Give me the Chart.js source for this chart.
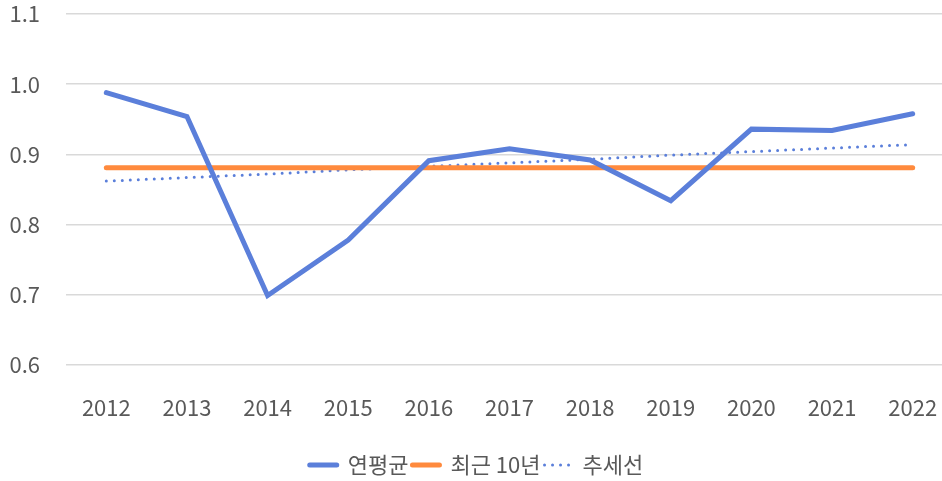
<!DOCTYPE html>
<html>
<head>
<meta charset="utf-8">
<script src="https://cdn.jsdelivr.net/npm/chart.js@4"></script>
<style>
  html, body { margin: 0; padding: 0; background: #fff; overflow: hidden; }
  #wrap { width: 953px; height: 481px; }
</style>
</head>
<body>
<div id="wrap"><canvas id="chart"></canvas></div>
<script>
var years = ['2012', '2013', '2014', '2015', '2016', '2017', '2018', '2019', '2020', '2021', '2022'];
var annualAvg = [0.988, 0.954, 0.699, 0.778, 0.891, 0.908, 0.892, 0.834, 0.936, 0.934, 0.958];
var recent10 = [0.881, 0.881, 0.881, 0.881, 0.881, 0.881, 0.881, 0.881, 0.881, 0.881, 0.881];
var trend = [0.862, 0.867, 0.872, 0.878, 0.883, 0.888, 0.893, 0.899, 0.904, 0.909, 0.914];
var yTicks = [0.6, 0.7, 0.8, 0.9, 1.0, 1.1];

var blue = '#5b7fda';
var orange = '#ff8a3d';
var textColor = '#595959';
var fontFamily = '"Noto Sans CJK KR", "Noto Sans", sans-serif';

var ctx = document.getElementById('chart').getContext('2d');

var chart = new Chart(ctx, {
    type: 'line',
    data: {
        labels: years,
        datasets: [{
            label: '연평균',
            data: annualAvg,
            borderColor: blue,
            backgroundColor: blue,
            borderWidth: 5,
            borderCapStyle: 'round',
            pointRadius: 0,
            pointStyle: 'line',
            tension: 0
        }, {
            label: '최근 10년',
            data: recent10,
            borderColor: orange,
            backgroundColor: orange,
            borderWidth: 5,
            borderCapStyle: 'round',
            pointRadius: 0,
            pointStyle: 'line'
        }, {
            label: '추세선',
            data: trend,
            borderColor: blue,
            backgroundColor: blue,
            borderWidth: 3,
            borderDash: [0, 8],
            borderCapStyle: 'round',
            pointRadius: 0,
            pointStyle: 'line'
        }]
    },
    options: {
        responsive: true,
        maintainAspectRatio: false,
        animation: false,
        layout: {
            padding: {top: 14, right: 0, bottom: -5, left: 0}
        },
        plugins: {
            tooltip: {enabled: false},
            legend: {
                position: 'bottom',
                labels: {
                    usePointStyle: true,
                    pointStyleWidth: 27,
                    boxWidth: 27,
                    padding: 4,
                    color: textColor,
                    font: {family: fontFamily, size: 22},
                    generateLabels: function(chart) {
                        var items = Chart.defaults.plugins.legend.labels.generateLabels(chart);
                        items.forEach(function(item) {
                            var ds = chart.data.datasets[item.datasetIndex];
                            item.lineDash = ds.borderDash || [];
                            item.lineCap = ds.borderCapStyle;
                            item.lineWidth = ds.borderWidth;
                            item.strokeStyle = ds.borderColor;
                            item.fontColor = textColor;
                        });
                        return items;
                    }
                }
            }
        },
        scales: {
            x: {
                offset: true,
                grid: {display: false},
                border: {display: false},
                ticks: {
                    color: textColor,
                    padding: 21,
                    maxRotation: 0,
                    font: {family: fontFamily, size: 22}
                },
                afterFit: function(scale) {
                    scale.height = 85;
                    scale.paddingLeft = 0;
                    scale.paddingRight = 0;
                }
            },
            y: {
                min: 0.6,
                max: 1.1,
                border: {display: false},
                grid: {color: '#d9d9d9', lineWidth: 1.5, drawTicks: false},
                afterBuildTicks: function(scale) {
                    scale.ticks = yTicks.map(function(v) { return {value: v}; });
                },
                afterFit: function(scale) {
                    scale.width = 66;
                    scale.paddingTop = 0;
                    scale.paddingBottom = 0;
                },
                ticks: {
                    color: textColor,
                    padding: 26,
                    font: {family: fontFamily, size: 22},
                    callback: function(v) { return v.toFixed(1); }
                }
            }
        }
    }
});
</script>
</body>
</html>
